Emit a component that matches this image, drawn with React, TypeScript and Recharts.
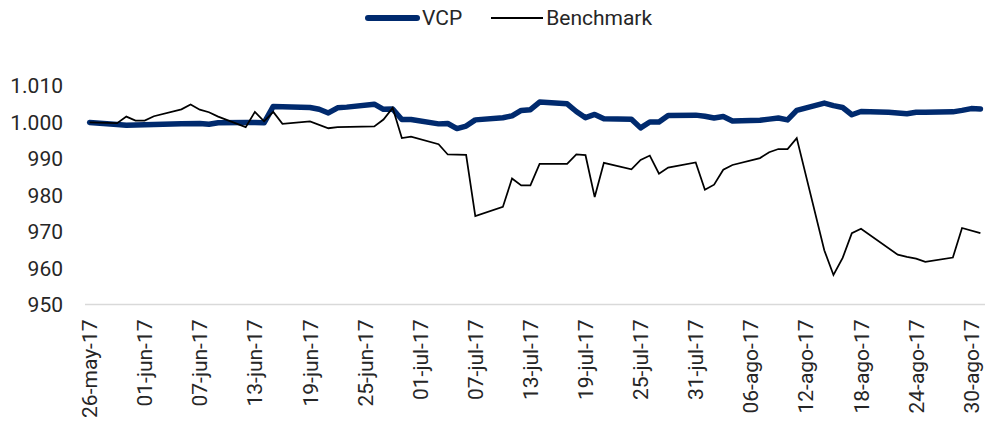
import React from 'react';
import { LineChart, Line, XAxis, YAxis } from 'recharts';

// Tick labels (every 6 days starting 26-may-17, day index 0)
const tickDays = [0, 6, 12, 18, 24, 30, 36, 42, 48, 54, 60, 66, 72, 78, 84, 90, 96];
const tickLabels = [
  '26-may-17', '01-jun-17', '07-jun-17', '13-jun-17', '19-jun-17', '25-jun-17',
  '01-jul-17', '07-jul-17', '13-jul-17', '19-jul-17', '25-jul-17', '31-jul-17',
  '06-ago-17', '12-ago-17', '18-ago-17', '24-ago-17', '30-ago-17',
];
const yTicks = [950, 960, 970, 980, 990, 1000, 1010];

// VCP series (day index since 26-may-17, value)
const vcpDays = [
  0, 3, 4, 7, 10, 12, 13, 14, 17, 18, 19, 20, 24, 25, 26, 27, 28, 31, 32, 33, 34, 35,
  38, 39, 40, 41, 42, 45, 46, 47, 48, 49, 52, 53, 54, 55, 56, 59, 60, 61, 62, 63,
  66, 67, 68, 69, 70, 73, 74, 75, 76, 77, 80, 81, 82, 83, 84, 87, 89, 90, 91, 94, 95, 96, 97,
];
const vcpValues = [
  1000.0, 999.4, 999.2, 999.4, 999.6, 999.7, 999.5, 999.9, 1000.0, 1000.0, 999.9, 1004.4,
  1004.1, 1003.6, 1002.6, 1004.0, 1004.2, 1005.0, 1003.6, 1003.7, 1000.8, 1000.8,
  999.6, 999.7, 998.3, 999.0, 1000.7, 1001.3, 1001.8, 1003.3, 1003.5, 1005.6,
  1005.1, 1003.0, 1001.3, 1002.2, 1001.0, 1000.9, 998.5, 1000.1, 1000.1, 1001.9,
  1002.0, 1001.7, 1001.2, 1001.6, 1000.4, 1000.6, 1000.9, 1001.2, 1000.7, 1003.3,
  1005.3, 1004.6, 1004.1, 1002.1, 1003.0, 1002.8, 1002.4, 1002.8, 1002.8, 1002.9,
  1003.3, 1003.8, 1003.7,
];

// Benchmark series
const benchmarkDays = [
  0, 3, 4, 5, 6, 7, 10, 11, 12, 13, 14, 17, 18, 19, 20, 21, 24, 26, 27, 31, 32, 33, 34, 35,
  38, 39, 41, 42, 45, 46, 47, 48, 49, 52, 53, 54, 55, 56, 59, 60, 61, 62, 63,
  66, 67, 68, 69, 70, 73, 74, 75, 76, 77, 80, 81, 82, 83, 84, 88, 89, 90, 91, 94, 95, 97,
];
const benchmarkValues = [
  1000.0, 999.8, 1001.6, 1000.5, 1000.5, 1001.7, 1003.6, 1004.9, 1003.5, 1002.8, 1001.6,
  998.7, 1002.9, 1000.3, 1002.9, 999.6, 1000.3, 998.4, 998.7, 998.9, 1000.8, 1004.0,
  995.7, 996.1, 994.0, 991.2, 991.1, 974.3, 976.8, 984.6, 982.7, 982.7, 988.6,
  988.6, 991.2, 991.0, 979.5, 988.9, 987.1, 989.7, 990.9, 985.9, 987.6,
  989.0, 981.5, 982.9, 987.0, 988.3, 990.2, 991.8, 992.7, 992.7, 995.7,
  964.9, 958.1, 962.8, 969.6, 970.8, 963.7, 963.1, 962.6, 961.7, 962.9, 971.0, 969.6,
];

const vcpData = vcpDays.map((d, i) => ({ d, v: vcpValues[i] }));
const benchmarkData = benchmarkDays.map((d, i) => ({ d, v: benchmarkValues[i] }));

const FONT = 'Roboto, sans-serif';
const TEXT_COLOR = '#262626';
const VCP_COLOR = '#002a6e';

const fmtY = (n: number) => {
  if (n >= 1000) {
    const th = Math.floor(n / 1000);
    const rest = String(Math.round(n % 1000)).padStart(3, '0');
    return `${th}.${rest}`;
  }
  return String(n);
};

const XTick = (props: any) => {
  const { x, y, payload } = props;
  const idx = tickDays.indexOf(payload.value);
  const label = idx >= 0 ? tickLabels[idx] : '';
  return (
    <text
      x={0}
      y={0}
      transform={`translate(${x},${y}) rotate(-90)`}
      textAnchor="end"
      dx={-15}
      dy="0.36em"
      fontSize={21}
      fontFamily={FONT}
      fill={TEXT_COLOR}
    >
      {label}
    </text>
  );
};

export default function App() {
  return (
    <div style={{ position: 'absolute', left: 0, top: 0, width: 991, height: 421, background: '#fff' }}>
      <div
        style={{
          position: 'absolute',
          left: 365,
          top: 4,
          height: 28,
          display: 'flex',
          alignItems: 'center',
          fontFamily: FONT,
          fontSize: 21,
          color: TEXT_COLOR,
          whiteSpace: 'nowrap',
        }}
      >
        <span style={{ display: 'inline-block', width: 55, height: 6, borderRadius: 3, background: VCP_COLOR }} />
        <span style={{ marginLeft: 2 }}>VCP</span>
        <span style={{ display: 'inline-block', width: 52, height: 2, background: '#000', marginLeft: 29 }} />
        <span style={{ marginLeft: 3 }}>Benchmark</span>
      </div>
      <LineChart width={991} height={421} margin={{ top: 86, right: 6, bottom: 0, left: 0 }}>
        <XAxis
          dataKey="d"
          type="number"
          domain={[-0.5, 97.5]}
          ticks={tickDays}
          interval={0}
          tick={<XTick />}
          tickLine={false}
          tickSize={0}
          tickMargin={0}
          height={116.5}
          axisLine={{ stroke: '#d9d9d9', strokeWidth: 1.5 }}
          allowDuplicatedCategory={false}
        />
        <YAxis
          type="number"
          domain={[950, 1010]}
          ticks={yTicks}
          interval={0}
          width={85}
          axisLine={false}
          tickLine={false}
          tickSize={0}
          tickMargin={22}
          tickFormatter={fmtY}
          tick={{ fontSize: 21, fontFamily: FONT, fill: TEXT_COLOR }}
        />
        <Line
          data={vcpData}
          dataKey="v"
          name="VCP"
          type="linear"
          stroke={VCP_COLOR}
          strokeWidth={5.5}
          strokeLinecap="round"
          strokeLinejoin="round"
          dot={false}
          activeDot={false}
          isAnimationActive={false}
        />
        <Line
          data={benchmarkData}
          dataKey="v"
          name="Benchmark"
          type="linear"
          stroke="#000"
          strokeWidth={1.75}
          dot={false}
          activeDot={false}
          isAnimationActive={false}
        />
      </LineChart>
    </div>
  );
}
